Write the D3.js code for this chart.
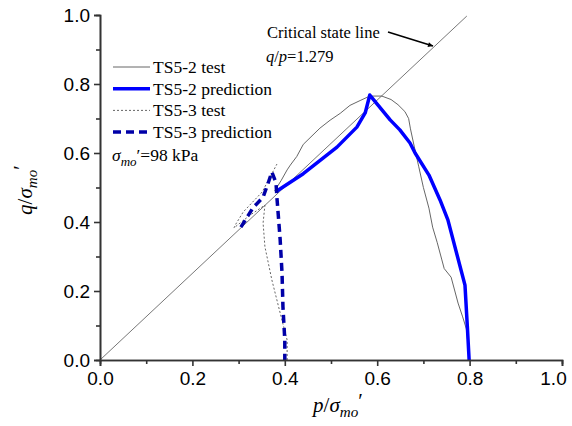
<!DOCTYPE html>
<html>
<head>
<meta charset="utf-8">
<script src="https://cdn.jsdelivr.net/npm/d3@7"></script>
<style>
  body { margin: 0; background: #fff; }
  svg { display: block; }
  .tick text { font-family: "Liberation Sans", Arial, sans-serif; font-size: 19px; fill: #000; }
  .serif { font-family: "Liberation Serif", "Times New Roman", serif; }
</style>
</head>
<body>
<svg id="chart" width="572" height="426"></svg>
<script>
// critical state line
let cslPoints = [[0, 0], [0.794, 0.997]];

// TS5-2 test (thin solid)
let ts52Test = [
    [0.378, 0.49], [0.392, 0.52], [0.405, 0.551], [0.412, 0.565], [0.426, 0.59],
    [0.44, 0.625], [0.476, 0.672], [0.498, 0.695], [0.52, 0.715], [0.541, 0.738],
    [0.563, 0.752], [0.584, 0.765], [0.61, 0.765], [0.63, 0.755], [0.645, 0.74],
    [0.66, 0.72], [0.668, 0.70], [0.672, 0.67], [0.68, 0.62], [0.69, 0.56],
    [0.70, 0.50], [0.712, 0.44], [0.72, 0.385], [0.73, 0.34], [0.74, 0.29],
    [0.745, 0.265], [0.76, 0.24], [0.775, 0.165], [0.785, 0.125], [0.793, 0.09],
    [0.797, 0.04], [0.80, 0.0]
];

// TS5-2 prediction (thick blue)
let ts52Pred = [
    [0.383, 0.49], [0.44, 0.54], [0.513, 0.617], [0.556, 0.675], [0.574, 0.716],
    [0.584, 0.768], [0.628, 0.696], [0.649, 0.667], [0.671, 0.629], [0.682, 0.60],
    [0.712, 0.536], [0.736, 0.464], [0.753, 0.406], [0.79, 0.217], [0.795, 0.10],
    [0.799, 0.0]
];

// TS5-3 test (thin dotted)
let ts53Test = [
    [0.405, 0.0], [0.405, 0.058], [0.39, 0.136], [0.372, 0.232], [0.357, 0.328],
    [0.353, 0.397], [0.357, 0.449], [0.325, 0.42], [0.29, 0.383], [0.294, 0.394],
    [0.31, 0.429], [0.351, 0.487], [0.383, 0.568]
];

// TS5-3 prediction (thick dashed)
let ts53Pred = [
    [0.305, 0.385], [0.331, 0.441], [0.353, 0.472], [0.364, 0.513], [0.372, 0.545],
    [0.381, 0.513], [0.383, 0.47], [0.39, 0.348], [0.394, 0.252], [0.396, 0.154],
    [0.40, 0.058], [0.40, 0.0]
];

let xTicks = [0, 0.2, 0.4, 0.6, 0.8, 1.0];
let yTicks = [0, 0.2, 0.4, 0.6, 0.8, 1.0];
let minorTicks = [0.1, 0.3, 0.5, 0.7, 0.9];

let series = [
    {name: "TS5-2 test", data: ts52Test, color: "#555", width: 0.9, dash: null},
    {name: "TS5-2 prediction", data: ts52Pred, color: "#0000ff", width: 3.5, dash: null},
    {name: "TS5-3 test", data: ts53Test, color: "#555", width: 0.9, dash: "2,2"},
    {name: "TS5-3 prediction", data: ts53Pred, color: "#0000a8", width: 3.5, dash: "8,5"}
];

let svg = d3.select("#chart");
let x = d3.scaleLinear().domain([0, 1]).range([100, 562]);
let y = d3.scaleLinear().domain([0, 1]).range([360, 15]);

let line = d3.line()
    .x(function (d) { return x(d[0]); })
    .y(function (d) { return y(d[1]); });

// critical state line
svg.append("path")
    .attr("d", line(cslPoints))
    .attr("fill", "none")
    .attr("stroke", "#777")
    .attr("stroke-width", 1);

// curves
svg.selectAll("path.curve")
    .data(series)
    .enter()
    .append("path")
    .attr("class", "curve")
    .attr("d", function (d) { return line(d.data); })
    .attr("fill", "none")
    .attr("stroke", function (d) { return d.color; })
    .attr("stroke-width", function (d) { return d.width; })
    .attr("stroke-dasharray", function (d) { return d.dash; })
    .attr("stroke-linejoin", "round");

// axes
let xAxis = svg.append("g")
    .attr("transform", "translate(0,360)")
    .call(d3.axisBottom(x).tickValues(xTicks).tickFormat(d3.format(".1f")).tickSizeOuter(0).tickSize(6).tickPadding(6));
let yAxis = svg.append("g")
    .attr("transform", "translate(100,0)")
    .call(d3.axisLeft(y).tickValues(yTicks).tickFormat(d3.format(".1f")).tickSizeOuter(0).tickSize(6).tickPadding(4));

// last x label sits against the right edge
xAxis.selectAll(".tick text")
    .attr("dx", function (d) { return d === 1 ? -9 : 0; });

svg.append("g")
    .attr("transform", "translate(0,360)")
    .call(d3.axisBottom(x).tickValues(minorTicks).tickFormat("").tickSizeOuter(0).tickSize(4));
svg.append("g")
    .attr("transform", "translate(100,0)")
    .call(d3.axisLeft(y).tickValues(minorTicks).tickFormat("").tickSizeOuter(0).tickSize(4));

svg.selectAll(".domain, .tick line")
    .attr("stroke", "#333")
    .attr("stroke-width", 1.6);

// axis titles
function sigmaLabel(sel, lead, size) {
    sel.append("tspan").attr("font-style", "italic").text(lead);
    sel.append("tspan").text("/");
    sel.append("tspan").attr("font-style", "italic").text("σ");
    sel.append("tspan").attr("font-style", "italic").attr("font-size", size * 0.72).attr("dy", 5).text("mo");
    sel.append("tspan").attr("dy", -9).text("′");
}

let xTitle = svg.append("text")
    .attr("class", "serif")
    .attr("x", 338)
    .attr("y", 412)
    .attr("text-anchor", "middle")
    .attr("font-size", 21);
sigmaLabel(xTitle, "p", 21);

let yTitle = svg.append("text")
    .attr("class", "serif")
    .attr("transform", "translate(32,190) rotate(-90)")
    .attr("text-anchor", "middle")
    .attr("font-size", 21);
sigmaLabel(yTitle, "q", 21);

// legend
let legend = svg.append("g").attr("class", "serif");
let rows = legend.selectAll("g")
    .data(series)
    .enter()
    .append("g")
    .attr("transform", function (d, i) { return "translate(0," + (67 + i * 21.7) + ")"; });
rows.append("line")
    .attr("x1", 113).attr("x2", 150)
    .attr("y1", 0).attr("y2", 0)
    .attr("stroke", function (d) { return d.color; })
    .attr("stroke-width", function (d) { return d.width; })
    .attr("stroke-dasharray", function (d) { return d.dash; });
rows.append("text")
    .attr("x", 153)
    .attr("y", 6)
    .attr("font-size", 17.5)
    .text(function (d) { return d.name; });

let note = legend.append("text")
    .attr("x", 112)
    .attr("y", 161)
    .attr("font-size", 17.5);
note.append("tspan").attr("font-style", "italic").text("σ");
note.append("tspan").attr("font-style", "italic").attr("font-size", 13).attr("dy", 5).text("mo");
note.append("tspan").attr("dy", -5).text("′=98 kPa");

// critical state line annotation
svg.append("text")
    .attr("class", "serif")
    .attr("x", 267)
    .attr("y", 38)
    .attr("font-size", 16.5)
    .text("Critical state line");
let ratio = svg.append("text")
    .attr("class", "serif")
    .attr("x", 266)
    .attr("y", 62)
    .attr("font-size", 16.5);
ratio.append("tspan").attr("font-style", "italic").text("q");
ratio.append("tspan").text("/");
ratio.append("tspan").attr("font-style", "italic").text("p");
ratio.append("tspan").text("=1.279");

svg.append("defs").append("marker")
    .attr("id", "arrow")
    .attr("viewBox", "0 0 10 10")
    .attr("refX", 10).attr("refY", 5)
    .attr("markerWidth", 8).attr("markerHeight", 5)
    .attr("markerUnits", "userSpaceOnUse")
    .attr("orient", "auto")
    .append("path")
    .attr("d", "M0,0 L10,5 L0,10 z")
    .attr("fill", "#000");
svg.append("line")
    .attr("x1", 388).attr("y1", 32)
    .attr("x2", 433).attr("y2", 46)
    .attr("stroke", "#000")
    .attr("stroke-width", 1.5)
    .attr("marker-end", "url(#arrow)");
</script>
</body>
</html>
